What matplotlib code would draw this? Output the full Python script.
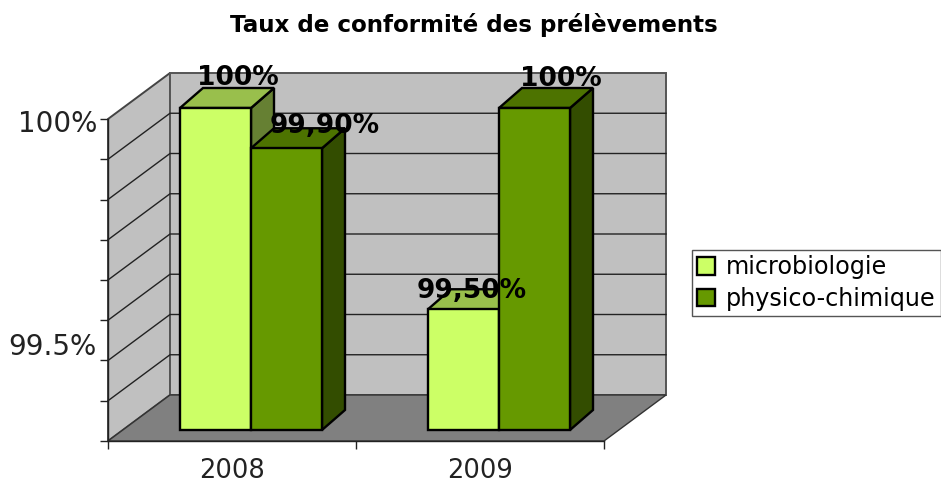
import matplotlib
matplotlib.use("Agg")
import matplotlib.pyplot as plt
from matplotlib.patches import Patch

# Data for plotting
years = ["2008", "2009"]
series_names = ["microbiologie", "physico-chimique"]
microbiologie = [100.0, 99.5]
physico = [99.9, 100.0]
microbiologie_labels = ["100%", "99,50%"]
physico_labels = ["99,90%", "100%"]
value_ticks = [99.2, 99.3, 99.4, 99.5, 99.6, 99.7, 99.8, 99.9, 100.0]
value_labels = ["100%", "99.5%"]

# where the labels land, the picture shows them off the ticks
value_label_pos = [99.995, 99.44]
label_shift = {"microbiologie": [(22, 30), (8, 18)], "physico-chimique": [(38, 22), (26, 29)]}

# colours: front, top, side
light = ("#CCFF66", "#99BF4C", "#668033")
dark = ("#669900", "#4D7300", "#334D00")

# 3d look, in pixels
px_x = 248.0            # one category
px_y = 40.25 / 0.1      # one unit of value
wall_dx, wall_dy = 62 / px_x, 46 / px_y
bar_dx, bar_dy = 19 / px_x, 11 / px_y
depth_dx, depth_dy = 23 / px_x, 20 / px_y
bar_w = 71 / px_x
base = value_ticks[0]
top = value_ticks[-1]
n = len(years)

fig = plt.figure(figsize=(9.41, 4.82), dpi=100)
ax = fig.add_axes([108 / 941, 1 - 441 / 482, 496 / 941, 322 / 482])
ax.set_xlim(0, n)
ax.set_ylim(base, top)
ax.patch.set_visible(False)
for s in ["top", "right"]:
    ax.spines[s].set_visible(False)
for s in ["left", "bottom"]:
    ax.spines[s].set_linewidth(1.0)
    ax.spines[s].set_color("#222222")


def poly(xs, ys, color, edge, lw, z):
    ax.fill(xs, ys, facecolor=color, edgecolor=edge, linewidth=lw, zorder=z, clip_on=False, joinstyle="miter")


# walls and floor
poly([0, wall_dx, wall_dx, 0], [base, base + wall_dy, top + wall_dy, top], "#C0C0C0", "#444444", 1.4, 1)
poly([wall_dx, n + wall_dx, n + wall_dx, wall_dx], [base + wall_dy, base + wall_dy, top + wall_dy, top + wall_dy],
     "#C0C0C0", "#555555", 1.4, 1)
poly([0, n, n + wall_dx, wall_dx], [base, base, base + wall_dy, base + wall_dy], "#808080", "#333333", 1.0, 1)
for v in value_ticks[1:-1]:
    ax.plot([0, wall_dx, n + wall_dx], [v, v + wall_dy, v + wall_dy], color="#222222", lw=1.0, zorder=2,
            clip_on=False)


def bar3d(left, value, cols, z):
    x0 = left + bar_dx
    x1 = x0 + bar_w
    y0 = base + bar_dy
    y1 = value + bar_dy
    poly([x1, x1 + depth_dx, x1 + depth_dx, x1], [y0, y0 + depth_dy, y1 + depth_dy, y1], cols[2], "black", 1.7, z)
    poly([x0, x0 + depth_dx, x1 + depth_dx, x1], [y1, y1 + depth_dy, y1 + depth_dy, y1], cols[1], "black", 1.7, z)
    poly([x0, x1, x1, x0], [y0, y0, y1, y1], cols[0], "black", 1.7, z)


for i in range(n):
    bar3d(i + 0.5 - bar_w, microbiologie[i], light, 3 + i * 2)
    bar3d(i + 0.5, physico[i], dark, 4 + i * 2)


def put_label(i, left, value, text, shift):
    x = left + bar_dx + bar_w / 2
    y = value + bar_dy
    ax.annotate(text, (x, y), xytext=shift, textcoords="offset pixels", ha="center", va="center",
                fontsize=19, fontweight="bold", color="black", zorder=10, annotation_clip=False)


for i in range(n):
    put_label(i, i + 0.5 - bar_w, microbiologie[i], microbiologie_labels[i], label_shift["microbiologie"][i])
    put_label(i, i + 0.5, physico[i], physico_labels[i], label_shift["physico-chimique"][i])

# ticks
ax.set_xticks(range(n + 1))
ax.set_xticklabels([])
ax.set_xticks([i + 0.5 for i in range(n)], minor=True)
ax.set_xticklabels(years, minor=True, fontsize=18.5, color="#222222")
ax.set_yticks(value_ticks)
ax.set_yticklabels([])
ax.set_yticks(value_label_pos, minor=True)
ax.set_yticklabels(value_labels, minor=True, fontsize=20, color="#222222")
ax.tick_params(axis="both", which="major", length=6, width=1.0, color="#222222")
ax.tick_params(axis="x", which="minor", length=0, pad=12)
ax.tick_params(axis="y", which="minor", length=0, pad=8)

fig.text(473.5 / 941, 1 - 25 / 482, "Taux de conformité des prélèvements", ha="center", va="center",
         fontsize=16.6, fontweight="bold", color="black")

handles = [Patch(facecolor=light[0], edgecolor="black", linewidth=1.7),
           Patch(facecolor=dark[0], edgecolor="black", linewidth=1.7)]
leg = fig.legend(handles, series_names, loc="upper left", bbox_to_anchor=(692 / 941, 1 - 250 / 482),
                 bbox_transform=fig.transFigure, fontsize=17.2, frameon=True, fancybox=False, framealpha=1,
                 edgecolor="#555555", borderaxespad=0, borderpad=0.22, labelspacing=0.32, handlelength=0.75,
                 handleheight=0.75, handletextpad=0.45)
leg.get_frame().set_linewidth(1.0)

fig.savefig("out.png", dpi=100)
